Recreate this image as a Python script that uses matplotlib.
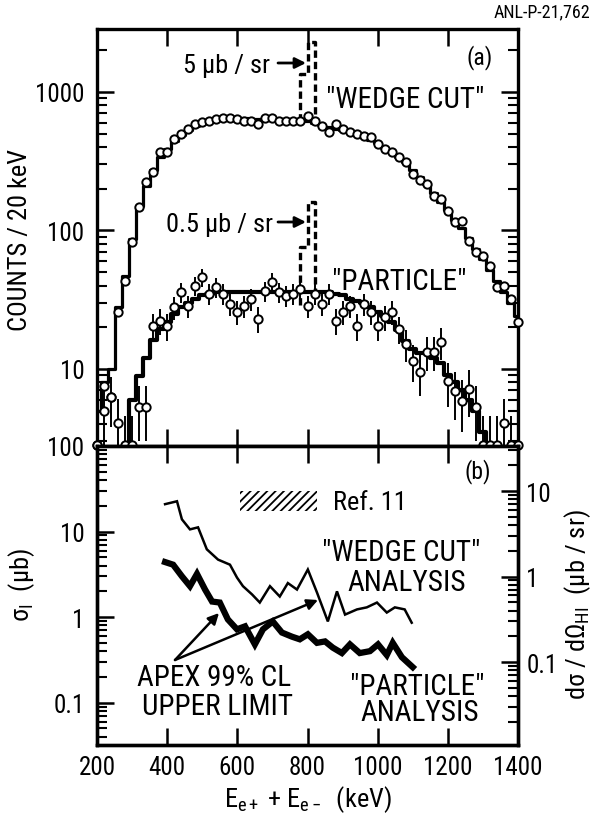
import numpy as np
import matplotlib
matplotlib.use('Agg')
import matplotlib.pyplot as plt
from matplotlib.ticker import LogLocator, FuncFormatter, NullFormatter, NullLocator, FixedLocator
from matplotlib import font_manager
import matplotlib.patches as mpatches

# ---- pick a narrow sans font if available ----
ttf = font_manager.fontManager.ttflist
names = {f.name for f in ttf}
main_font, stretch, fs = None, 'normal', 1.0
for cand in ['Liberation Sans Narrow', 'Roboto Condensed', 'DejaVu Sans Condensed',
             'Open Sans Condensed', 'Noto Sans Condensed']:
    if cand in names:
        main_font = cand
        break
if main_font is None:
    for f in ttf:
        if f.stretch in ('condensed', 'semi-condensed') and f.style == 'normal' \
                and 'Mono' not in f.name and 'Serif' not in f.name and 'CJK' not in f.name:
            main_font, stretch = f.name, f.stretch
            break
if main_font is None:
    main_font = 'Roboto' if 'Roboto' in names else 'Liberation Sans'
    fs = 0.88

plt.rcParams['font.family'] = [main_font, 'DejaVu Sans']
plt.rcParams['font.stretch'] = stretch
plt.rcParams['mathtext.fontset'] = 'custom'
plt.rcParams['mathtext.rm'] = main_font
plt.rcParams['mathtext.it'] = main_font + ':italic'
plt.rcParams['mathtext.bf'] = main_font + ':bold'
plt.rcParams['hatch.linewidth'] = 1.3

# ---------------- data (panel a) ----------------
wedge_E = [200, 220, 240, 260, 280, 300, 320, 340, 360, 380, 400, 420, 440, 460, 480,
           500, 520, 540, 560, 580, 600, 620, 640, 660, 680, 700, 720, 740, 760, 780,
           800, 820, 840, 860, 880, 900, 920, 940, 960, 980, 1000, 1020, 1040, 1060,
           1080, 1100, 1120, 1140, 1160, 1180, 1200, 1220, 1240, 1260, 1280, 1300,
           1320, 1340, 1360, 1380, 1400]
wedge_counts = [2.85, 7.5, 6.3, 26, 43, 83, 148, 224, 264, 369, 369, 458, 497, 540, 588,
                607, 617, 640, 650, 650, 640, 617, 617, 588, 650, 650, 617, 617, 617, 617,
                671, 617, 569, 514, 588, 540, 514, 497, 480, 470, 422, 387, 369, 340,
                313, 256, 230, 217, 177, 169, 138, 115, 117, 84, 70, 65,
                55, 39, 40, 32, 22]
wedge_mc = [5, 8, 10, 28, 47, 87, 150, 210, 275, 340, 390, 440, 490, 530, 570,
            600, 620, 635, 645, 650, 650, 645, 640, 640, 640, 640, 635, 630, 630, 625,
            620, 600, 580, 560, 545, 530, 510, 495, 475, 450, 425, 395, 370, 340,
            310, 275, 245, 215, 185, 160, 140, 120, 105, 88, 74, 62,
            52, 43, 36, 30, 24]

particle_E = [200, 220, 240, 260, 280, 300, 320, 340, 360, 380, 400, 420, 440, 460, 480,
              500, 520, 540, 560, 580, 600, 620, 640, 660, 680, 700, 720, 740, 760, 780,
              800, 820, 840, 860, 880, 900, 920, 940, 960, 980, 1000, 1020, 1040, 1060,
              1080, 1100, 1120, 1140, 1160, 1180, 1200, 1220, 1240, 1260, 1280, 1300,
              1320, 1340, 1360, 1380, 1400]
particle_counts = [2.85, 5.0, 6.3, 4.1, 2.85, 2.85, 5.3, 5.3, 20.4, 22.2, 20.4, 28, 36, 28.5, 40,
                   46, 35, 39, 35, 29.5, 26, 28.5, 32, 23, 36.5, 42.5, 36, 33.7, 35, 37.8,
                   28.5, 35, 29.5, 35, 22.2, 25.8, 28.5, 20.4, 29.5, 26, 20.4, 23.7, 26, 19.5,
                   15.2, 11.4, 9.5, 13.3, 13.3, 15.7, 8.2, 6.9, 5.9, 7.2, 5.3, 2.85,
                   2.85, 2.85, 4.1, 2.85, 2.85]
particle_err = [1.7, 2.2, 2.5, 2.0, 1.7, 1.7, 2.3, 2.3, 4.5, 4.7, 4.5, 5.3, 6.0, 5.3, 6.3,
                6.8, 5.9, 6.2, 5.9, 5.4, 5.1, 5.3, 5.7, 4.8, 6.0, 6.5, 6.0, 5.8, 5.9, 6.1,
                5.3, 5.9, 5.4, 5.9, 4.7, 5.1, 5.3, 4.5, 5.4, 5.1, 4.5, 4.9, 5.1, 4.4,
                3.9, 3.4, 3.1, 3.6, 3.6, 4.0, 2.9, 2.6, 2.4, 2.7, 2.3, 1.7,
                1.7, 1.7, 2.0, 1.7, 1.7]
particle_mc_E = [280, 300, 320, 340, 360, 380, 400, 420, 440, 460, 480, 500, 520, 540, 560,
                 580, 600, 620, 640, 660, 680, 700, 720, 740, 760, 780, 800, 820, 840, 860,
                 880, 900, 920, 940, 960, 980, 1000, 1020, 1040, 1060, 1080, 1100, 1120,
                 1140, 1160, 1180, 1200, 1220, 1240, 1260, 1280, 1300, 1320]
particle_mc = [2.8, 6.0, 8.9, 12, 16.3, 19.5, 22, 25, 28, 30, 32, 34, 35, 36, 36,
               36, 36, 36, 36, 36, 36, 36, 36, 36, 36, 36, 36, 36, 36, 36,
               35, 34, 32, 31, 30, 28, 26, 24, 22, 19, 16, 14, 13,
               13, 12, 11, 9, 8, 7, 6, 5, 3.5, 2.8]

# hypothetical-peak (dashed) histograms
peak_edges = [780, 800, 820]
peak_wedge = [1350, 2300]
peak_wedge_base = [617, 600]
peak_particle = [76, 160]
peak_particle_base = [29, 34]

# ---------------- data (panel b) ----------------
wedge_limit_E = [394, 428, 442, 465, 488, 513, 545, 579, 599, 616, 642, 664, 693, 721,
                 744, 770, 801, 827, 858, 884, 907, 941, 969, 998, 1026, 1049, 1077, 1097]
wedge_limit = [20.9, 22.6, 13.9, 10.6, 11.2, 6.2, 4.7, 4.1, 2.9, 2.3, 1.84, 1.48, 2.3, 1.74,
               2.5, 2.1, 3.6, 1.94, 0.89, 2.0, 1.07, 1.23, 1.30, 1.48, 1.13, 1.30, 1.23, 0.86]
particle_limit_E = [394, 417, 442, 465, 485, 508, 528, 550, 573, 599, 622, 650, 673, 701, 727,
                    756, 778, 801, 827, 850, 872, 898, 921, 949, 978, 1001, 1026, 1043, 1069, 1100]
particle_limit = [4.4, 4.1, 3.0, 2.3, 3.2, 2.1, 1.52, 1.48, 0.94, 0.72, 0.78, 0.48, 0.72, 0.89, 0.66,
                  0.59, 0.55, 0.63, 0.50, 0.52, 0.44, 0.38, 0.48, 0.38, 0.40, 0.48, 0.36, 0.50, 0.34, 0.26]
ref11_E = [607, 827]
ref11_lo = [17.3, 17.3]
ref11_hi = [29.7, 29.7]

x_ticks = [200, 400, 600, 800, 1000, 1200, 1400]

# ---------------- figure ----------------
W, H = 601, 829
fig = plt.figure(figsize=(W / 100, H / 100), dpi=100)

def fx(px):
    return px / W

def fy(py):
    return 1 - py / H

L, R, T, M, B = 97, 518, 30, 447, 746
ax1 = fig.add_axes([fx(L), fy(M), fx(R) - fx(L), fy(T) - fy(M)])
ax2 = fig.add_axes([fx(L), fy(B), fx(R) - fx(L), fy(M) - fy(B)])

fmt = FuncFormatter(lambda v, p: f'{v:g}')
TL = 18 * fs

for ax in (ax1, ax2):
    for s in ax.spines.values():
        s.set_linewidth(2.4)
    ax.set_xlim(200, 1400)
    ax.set_yscale('log')
    ax.xaxis.set_major_locator(FixedLocator(x_ticks))
    ax.xaxis.set_minor_locator(NullLocator())
    ax.yaxis.set_major_locator(LogLocator(base=10, numticks=20))
    ax.yaxis.set_minor_locator(LogLocator(base=10, subs=np.arange(2, 10), numticks=20))
    ax.yaxis.set_major_formatter(fmt)
    ax.yaxis.set_minor_formatter(NullFormatter())
    ax.tick_params(which='major', direction='in', length=12, width=1.8, labelsize=TL)
    ax.tick_params(which='minor', direction='in', length=7, width=1.5)

# ---- panel (a) ----
ax1.set_ylim(2.78, 2850)
ax1.tick_params(which='both', top=True, bottom=True, left=True, right=True,
                labelbottom=False, pad=9)
ax1.step(wedge_E, wedge_mc, where='mid', color='k', lw=2.3, zorder=3)
ax1.step(particle_mc_E, particle_mc, where='mid', color='k', lw=3.0, zorder=3)

def peak_path(edges, vals, base):
    xs = [edges[0], edges[0], edges[1], edges[1], edges[2], edges[2]]
    ys = [base[0], vals[0], vals[0], vals[1], vals[1], base[1]]
    return xs, ys

xs, ys = peak_path(peak_edges, peak_wedge, peak_wedge_base)
ax1.plot(xs, ys, color='k', lw=2.4, ls=(0, (2.2, 1.2)), zorder=3)
xs, ys = peak_path(peak_edges, peak_particle, peak_particle_base)
ax1.plot(xs, ys, color='k', lw=2.4, ls=(0, (2.2, 1.2)), zorder=3)

ax1.errorbar(particle_E, particle_counts, yerr=particle_err, fmt='none',
             ecolor='k', elinewidth=1.4, capsize=0, zorder=4)
ax1.plot(particle_E, particle_counts, 'o', mfc='white', mec='k', ms=6, mew=1.4,
         clip_on=False, zorder=5)
ax1.plot(wedge_E, wedge_counts, 'o', mfc='white', mec='k', ms=6, mew=1.4,
         clip_on=False, zorder=5)

# ---- panel (b) ----
ax2.set_ylim(0.032, 100)
ax2.tick_params(which='both', top=True, bottom=True, left=True, right=False, pad=9)
ax2.tick_params(axis='x', pad=7)
ax2.fill_between(ref11_E, ref11_lo, ref11_hi, hatch='////', facecolor='none',
                 edgecolor='k', linewidth=0)
ax2.plot(wedge_limit_E, wedge_limit, color='k', lw=1.8, solid_joinstyle='miter')
ax2.plot(particle_limit_E, particle_limit, color='k', lw=4.5, solid_joinstyle='miter')

ax2r = ax2.twinx()
ax2r.set_yscale('log')
ax2r.set_ylim(0.0107, 33.6)
ax2r.yaxis.set_major_locator(LogLocator(base=10, numticks=20))
ax2r.yaxis.set_minor_locator(LogLocator(base=10, subs=np.arange(2, 10), numticks=20))
ax2r.yaxis.set_major_formatter(fmt)
ax2r.yaxis.set_minor_formatter(NullFormatter())
ax2r.tick_params(which='major', direction='in', length=12, width=1.8, labelsize=TL, pad=6)
ax2r.tick_params(which='minor', direction='in', length=7, width=1.5)
for s in ax2r.spines.values():
    s.set_linewidth(2.4)

# ---- texts ----
def T_(px, py, s, size=19, **kw):
    fig.text(fx(px), fy(py), s, fontsize=size * fs, **kw)

T_(590, 12, 'ANL-P-21,762', ha='right', va='center', size=13)
T_(467, 58, '(a)', ha='left', va='center', size=17)
T_(465, 472, '(b)', ha='left', va='center', size=17)
T_(270, 66, '5 μb / sr', ha='right', va='center')
T_(273, 225, '0.5 μb / sr', ha='right', va='center')
T_(326, 100, '"WEDGE CUT"', ha='left', va='center', size=21)
T_(332, 282, '"PARTICLE"', ha='left', va='center', size=21)
T_(333, 503, 'Ref. 11', ha='left', va='center', size=19)
T_(322, 553, '"WEDGE CUT"', ha='left', va='center', size=21)
T_(407, 583, 'ANALYSIS', ha='center', va='center', size=21)
T_(350, 687, '"PARTICLE"', ha='left', va='center', size=21)
T_(420, 713, 'ANALYSIS', ha='center', va='center', size=21)
T_(214, 678, 'APEX 99% CL', ha='center', va='center', size=21)
T_(217, 707, 'UPPER LIMIT', ha='center', va='center', size=21)

T_(20, 240, 'COUNTS / 20 keV', rotation=90, ha='center', va='center', size=19)
T_(22, 585, r'σ$_{\mathregular{I}}$  (μb)', rotation=90, ha='center', va='center', size=19)
T_(578, 605, r'dσ / dΩ$_{\mathregular{HI}}$  (μb / sr)', rotation=90, ha='center',
   va='center', size=19)
T_(308, 800, r'E$_{\mathregular{e+}}$ + E$_{\mathregular{e-}}$  (keV)', ha='center',
   va='center', size=19)

arrow_kw = dict(arrowstyle='-|>', lw=2, color='k', mutation_scale=16, shrinkA=0, shrinkB=0)
fig.add_artist(mpatches.FancyArrowPatch((fx(278), fy(64)), (fx(306), fy(64)),
               transform=fig.transFigure, **arrow_kw))
fig.add_artist(mpatches.FancyArrowPatch((fx(278), fy(223)), (fx(306), fy(223)),
               transform=fig.transFigure, **arrow_kw))
fig.add_artist(mpatches.FancyArrowPatch((fx(175), fy(661)), (fx(219), fy(614)),
               transform=fig.transFigure, **dict(arrow_kw, lw=1.8)))
fig.add_artist(mpatches.FancyArrowPatch((fx(175), fy(661)), (fx(318), fy(601)),
               transform=fig.transFigure, **dict(arrow_kw, lw=1.8)))

fig.savefig('out.png', dpi=100)
